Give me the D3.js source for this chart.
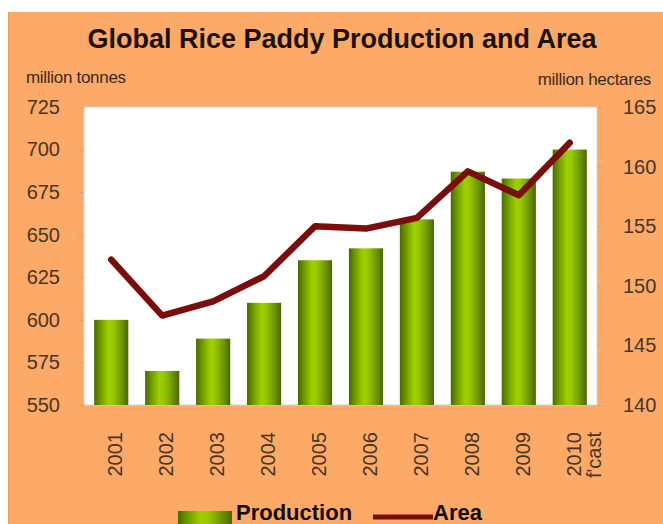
<!DOCTYPE html>
<html>
<head>
<meta charset="utf-8">
<script src="https://cdn.jsdelivr.net/npm/d3@7"></script>
<style>
  html, body { margin: 0; padding: 0; background: #ffffff; }
  svg { display: block; }
  text { font-family: "Liberation Sans", Arial, sans-serif; }
</style>
</head>
<body>
<svg id="chart" width="663" height="524"></svg>
<script>
// Global rice paddy production (million tonnes) and harvested area (million hectares)
const years = ["2001", "2002", "2003", "2004", "2005", "2006", "2007", "2008", "2009", "2010"];
const yearSubLabels = ["", "", "", "", "", "", "", "", "", "f'cast"];
const production = [600, 570, 589, 610, 635, 642, 659, 687, 683, 700];
const area = [152.2, 147.5, 148.7, 150.8, 155.0, 154.8, 155.7, 159.6, 157.6, 162.0];
const leftTicks = [550, 575, 600, 625, 650, 675, 700, 725];
const rightTicks = [140, 145, 150, 155, 160, 165];

const W = 663, H = 524;
const plot = { left: 84, right: 597, top: 107, bottom: 405 };

const svg = d3.select("#chart");
const defs = svg.append("defs");

// Cylinder-like shading for the bars
const grad = defs.append("linearGradient")
  .attr("id", "barGrad").attr("x1", "0").attr("x2", "1").attr("y1", "0").attr("y2", "0");
[[0, "#4a6800"], [0.18, "#6f9a00"], [0.42, "#9dd000"], [0.55, "#97c800"], [0.8, "#6e9800"], [1, "#4a6600"]]
  .forEach(([o, c]) => grad.append("stop").attr("offset", o).attr("stop-color", c));

// Background panel
svg.append("rect").attr("x", 8).attr("y", 12).attr("width", W - 8).attr("height", H - 12)
  .attr("fill", "#fdaa69");
svg.append("line").attr("x1", 8.5).attr("x2", 8.5).attr("y1", 12).attr("y2", H)
  .attr("stroke", "#e79a60").attr("stroke-width", 1);

// Plot area
svg.append("rect").attr("x", plot.left).attr("y", plot.top)
  .attr("width", plot.right - plot.left).attr("height", plot.bottom - plot.top)
  .attr("fill", "#ffffff").attr("stroke", "#d9d2cc").attr("stroke-width", 1);

const x = d3.scaleBand().domain(years).range([plot.left, plot.right])
  .paddingInner(0.33).paddingOuter(0.2);
const yL = d3.scaleLinear().domain([550, 725]).range([plot.bottom, plot.top]);
const yR = d3.scaleLinear().domain([140, 165]).range([plot.bottom, plot.top]);

// Title
svg.append("text").attr("x", 342).attr("y", 48).attr("text-anchor", "middle")
  .attr("font-size", 27).attr("font-weight", "bold").attr("fill", "#1c120a")
  .text("Global Rice Paddy Production and Area");

// Axis unit labels
svg.append("text").attr("x", 26).attr("y", 83).attr("font-size", 17)
  .attr("fill", "#3a2a1c").attr("letter-spacing", "-0.3").text("million tonnes");
svg.append("text").attr("x", 651).attr("y", 85).attr("text-anchor", "end").attr("font-size", 17)
  .attr("fill", "#3a2a1c").attr("letter-spacing", "-0.3").text("million hectares");

// Left axis
const axL = svg.append("g").attr("transform", `translate(${plot.left},0)`)
  .call(d3.axisLeft(yL).tickValues(leftTicks).tickSize(6).tickPadding(18).tickFormat(d3.format("d")));
axL.select(".domain").remove();
axL.selectAll(".tick line").attr("stroke", "#b8aca2");
axL.selectAll(".tick text").attr("font-size", 20).attr("fill", "#4a3424")
  .attr("font-family", "Liberation Sans, Arial, sans-serif");

// Right axis
const axR = svg.append("g").attr("transform", `translate(${plot.right},0)`)
  .call(d3.axisRight(yR).tickValues(rightTicks).tickSize(6).tickPadding(20).tickFormat(d3.format("d")));
axR.select(".domain").remove();
axR.selectAll(".tick line").attr("stroke", "#b8aca2");
axR.selectAll(".tick text").attr("font-size", 20).attr("fill", "#4a3424")
  .attr("font-family", "Liberation Sans, Arial, sans-serif");

// Production bars
svg.append("g").selectAll("rect").data(years).join("rect")
  .attr("x", d => x(d))
  .attr("y", (d, i) => yL(production[i]))
  .attr("width", x.bandwidth())
  .attr("height", (d, i) => plot.bottom - yL(production[i]))
  .attr("fill", "url(#barGrad)");

// Area line
const cx = d => x(d) + x.bandwidth() / 2;
svg.append("path")
  .datum(years)
  .attr("d", d3.line().x(d => cx(d)).y((d, i) => yR(area[i])))
  .attr("fill", "none").attr("stroke", "#7a0d0d").attr("stroke-width", 6.5)
  .attr("stroke-linejoin", "round").attr("stroke-linecap", "round");

// Category labels, rotated
const xl = svg.append("g");
years.forEach((y, i) => {
  const t = xl.append("text")
    .attr("transform", `translate(${cx(y) + 4},432) rotate(-90)`)
    .attr("text-anchor", "end").attr("font-size", 20).attr("fill", "#4a3424");
  if (yearSubLabels[i]) {
    t.append("tspan").attr("x", 0).attr("dy", "0.35em").text(y);
    t.append("tspan").attr("x", 0).attr("dy", "1.0em").text(yearSubLabels[i]);
  } else {
    t.attr("dy", "0.35em").text(y);
  }
});

// Legend
const lg = svg.append("g");
lg.append("rect").attr("x", 178).attr("y", 511).attr("width", 54).attr("height", 13)
  .attr("fill", "url(#barGrad)");
lg.append("text").attr("x", 236).attr("y", 520).attr("font-size", 22).attr("font-weight", "bold")
  .attr("fill", "#120a04").text("Production");
lg.append("line").attr("x1", 373).attr("x2", 433).attr("y1", 517).attr("y2", 517)
  .attr("stroke", "#7a0d0d").attr("stroke-width", 5);
lg.append("text").attr("x", 433).attr("y", 520).attr("font-size", 22).attr("font-weight", "bold")
  .attr("fill", "#120a04").text("Area");
</script>
</body>
</html>
